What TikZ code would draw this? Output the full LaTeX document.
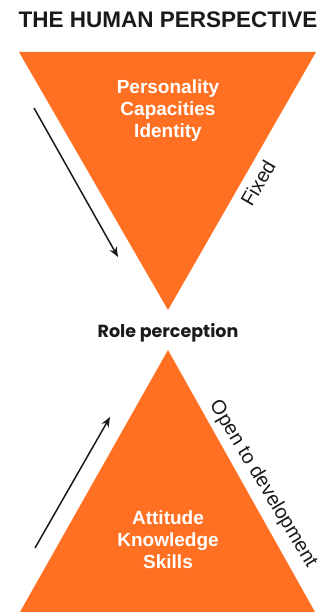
\documentclass[tikz,border=0pt]{standalone}
\usepackage{fontspec}
\setmainfont{Liberation Sans}
\newfontfamily\rolefont{Poppins}
\usetikzlibrary{positioning,arrows.meta}
\definecolor{cOrange}{HTML}{FF7022}
\definecolor{cInk}{HTML}{1A1A1A}
\tikzset{
  tri/.style={fill=cOrange, draw=none},
  ttl/.style={font=\fontsize{22.5}{27}\selectfont\bfseries, text=cInk, inner sep=0pt},
  inside/.style={text=white, font=\fontsize{19}{22}\selectfont\bfseries,
                 align=center, inner sep=0pt},
  side/.style={font=\fontsize{20}{24}\selectfont, text=cInk, inner sep=0pt},
  role/.style={font=\rolefont\fontsize{17.5}{21}\selectfont\bfseries, text=cInk, inner sep=0pt},
  ar/.style={-{Stealth[length=10pt,width=8pt]}, cInk, line width=1.5pt}
}
\begin{document}
\begin{tikzpicture}[x=1pt,y=-1pt]
\useasboundingbox (0,0) rectangle (326,612);
% upper triangle
\coordinate (tl) at (19,52); \coordinate (tr) at (316,52); \coordinate (tb) at (168,310);
\fill[tri] (tl) -- (tr) -- (tb) -- cycle;
% lower triangle
\coordinate (bt) at (168,350); \coordinate (bl) at (20,612); \coordinate (br) at (315,612);
\fill[tri] (bt) -- (bl) -- (br) -- cycle;
\node[ttl] (title) at (168,20) {THE HUMAN PERSPECTIVE};
\node[inside] (upper) at (168,111) {Personality\\Capacities\\Identity};
\node[inside] (lower) at (168,540) {Attitude\\Knowledge\\Skills};
\node[role, anchor=base] (rolep) at (168,337) {Role perception};
\node[side, rotate=60] (fixed) at (258,183) {Fixed};
\node[side, rotate=-59] (open) at (263,484) {Open to development};
% arrows
\coordinate (downs) at (34,108); \coordinate (downe) at (118,257);
\coordinate (ups) at (35,548); \coordinate (upe) at (110,417);
\draw[ar] (downs) -- (downe);
\draw[ar] (ups) -- (upe);
\end{tikzpicture}
\end{document}
